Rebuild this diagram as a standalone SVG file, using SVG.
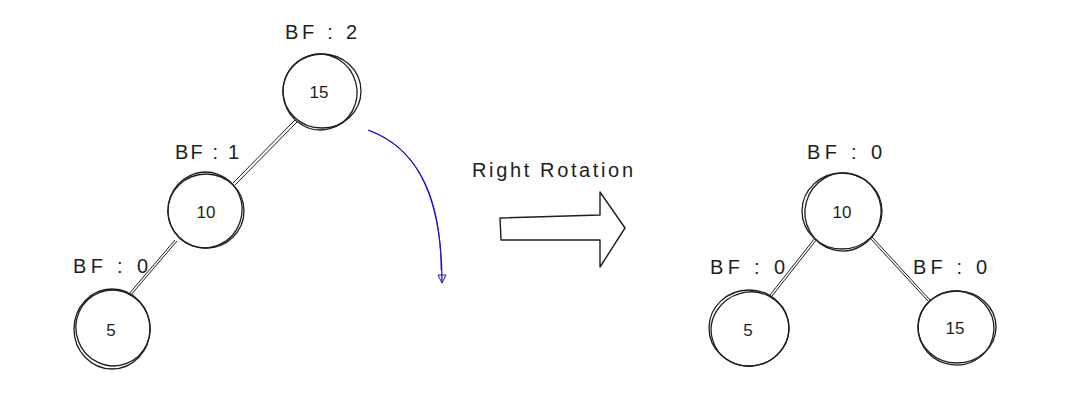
<svg xmlns="http://www.w3.org/2000/svg" width="1092" height="411" viewBox="0 0 1092 411">
<style>
.n{fill:none;stroke:#1e1e1e;stroke-width:1.3}
.e{fill:none;stroke:#1e1e1e;stroke-width:1}
.lbl{font-family:"Liberation Sans",Arial,sans-serif;font-size:20px;fill:#1e1e1e}
.v{font-family:"Liberation Sans",Arial,sans-serif;font-size:17px;fill:#1e1e1e;text-anchor:middle;dominant-baseline:central}
</style>
<defs>
<marker id="ah" viewBox="0 0 10 10" refX="9" refY="5" markerWidth="10" markerHeight="10" orient="auto" markerUnits="userSpaceOnUse">
<path d="M1,1 L9,5 L1,9 Z" fill="none" stroke="#1a0dd6" stroke-width="1"/>
</marker>
</defs>
<rect width="1092" height="411" fill="#ffffff"/>
<g id="connectors">
<path class="e" d="M295,120 L233,183 M297,122 L235,185"/>
<path class="e" d="M175,240 L128,295 M177,241 L130,296"/>
<path class="e" d="M815,238 L770,295 M817,239 L772,296"/>
<path class="e" d="M872,237 L930,300 M870,238 L928,301"/>
<path d="M368,130 C410,145 442,185 442,283" fill="none" stroke="#1a0dd6" stroke-width="1.2" marker-end="url(#ah)"/>
<path d="M370,131 C412,147 441,188 441,270" fill="none" stroke="#1a0dd6" stroke-width="0.8"/>
</g>
<g id="node-15-left">
<ellipse class="n" cx="322" cy="91" rx="39" ry="37"/>
<ellipse class="n" cx="320" cy="92" rx="37" ry="38" transform="rotate(-15 320 92)"/>
<text class="v" x="319" y="92">15</text>
<text class="lbl" x="285" y="39" textLength="72">BF : 2</text>
</g>
<g id="node-10-left">
<ellipse class="n" cx="206" cy="211" rx="38" ry="37"/>
<ellipse class="n" cx="205" cy="210" rx="37" ry="38" transform="rotate(20 205 210)"/>
<text class="v" x="206" y="212">10</text>
<text class="lbl" x="175" y="159" textLength="64">BF : 1</text>
</g>
<g id="node-5-left">
<ellipse class="n" cx="112" cy="329" rx="38" ry="40"/>
<ellipse class="n" cx="113" cy="328" rx="37" ry="38" transform="rotate(-20 113 328)"/>
<text class="v" x="111" y="330">5</text>
<text class="lbl" x="73" y="273" textLength="75">BF : 0</text>
</g>
<g id="rotation-arrow">
<path d="M500,218 L600,215 L600,192 L625,228 L600,267 L600,240 L501,240 Z" fill="none" stroke="#1e1e1e" stroke-width="1.4" stroke-linejoin="round"/>
<text class="lbl" x="472" y="177" textLength="161">Right Rotation</text>
</g>
<g id="node-10-right">
<ellipse class="n" cx="842" cy="211" rx="40" ry="38"/>
<ellipse class="n" cx="843" cy="212" rx="38" ry="39" transform="rotate(15 843 212)"/>
<text class="v" x="842" y="212">10</text>
<text class="lbl" x="807" y="159" textLength="75">BF : 0</text>
</g>
<g id="node-5-right">
<ellipse class="n" cx="749" cy="328" rx="40" ry="38"/>
<ellipse class="n" cx="750" cy="329" rx="39" ry="37" transform="rotate(-15 750 329)"/>
<text class="v" x="748" y="330">5</text>
<text class="lbl" x="710" y="274" textLength="75">BF : 0</text>
</g>
<g id="node-15-right">
<ellipse class="n" cx="957" cy="327" rx="39" ry="36"/>
<ellipse class="n" cx="956" cy="328" rx="38" ry="37" transform="rotate(15 956 328)"/>
<text class="v" x="955" y="328">15</text>
<text class="lbl" x="913" y="274" textLength="74">BF : 0</text>
</g>
</svg>
